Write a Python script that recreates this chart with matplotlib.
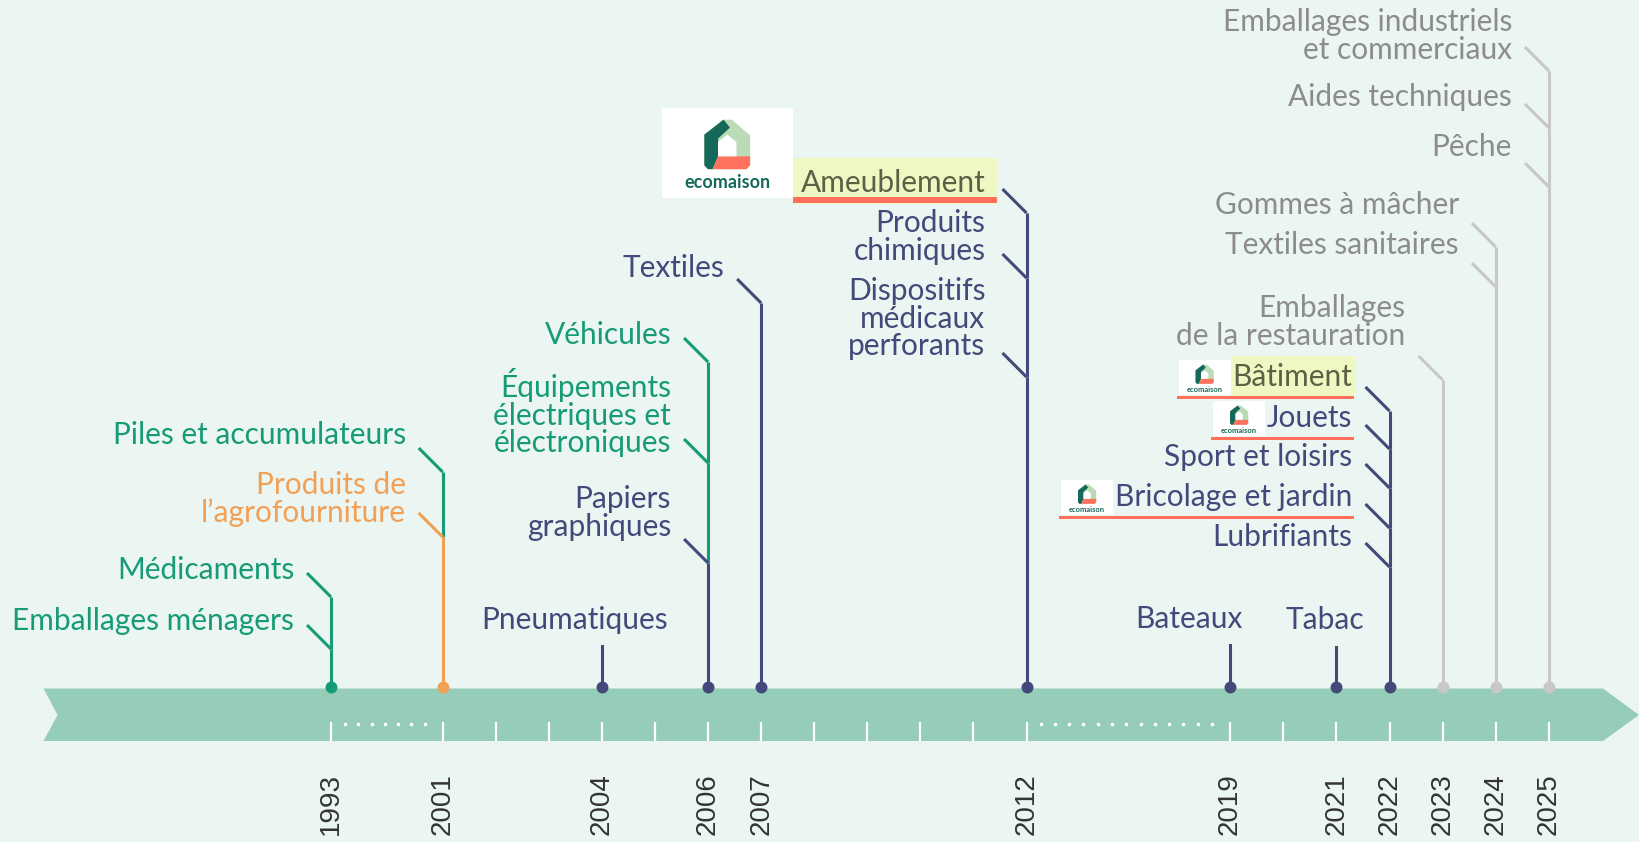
import matplotlib.pyplot as plt
import numpy as np
from matplotlib.font_manager import FontProperties
from matplotlib.patches import Polygon, Rectangle

# ---- données ----
tick_years = [1993] + list(range(2001, 2013)) + list(range(2019, 2026))
year_labels = [1993, 2001, 2004, 2006, 2007, 2012, 2019, 2021, 2022, 2023, 2024, 2025]

filieres = ['Médicaments', 'Emballages ménagers', 'Piles et accumulateurs',
            'Produits de\nl’agrofourniture', 'Pneumatiques', 'Véhicules',
            'Équipements\nélectriques et\nélectroniques', 'Papiers\ngraphiques',
            'Textiles', 'Ameublement', 'Produits\nchimiques',
            'Dispositifs\nmédicaux\nperforants', 'Bateaux', 'Tabac', 'Bâtiment',
            'Jouets', 'Sport et loisirs', 'Bricolage et jardin', 'Lubrifiants',
            'Emballages\nde la restauration', 'Gommes à mâcher',
            'Textiles sanitaires', 'Emballages industriels\net commerciaux',
            'Aides techniques', 'Pêche']
annees = [1993, 1993, 2001, 2001, 2004, 2006, 2006, 2006, 2007, 2012, 2012, 2012,
          2019, 2021, 2022, 2022, 2022, 2022, 2022, 2023, 2024, 2024, 2025, 2025, 2025]
groupes = ['vert', 'vert', 'vert', 'orange', 'bleu', 'vert', 'vert', 'bleu', 'bleu',
           'bleu', 'bleu', 'bleu', 'bleu', 'bleu', 'bleu', 'bleu', 'bleu', 'bleu',
           'bleu', 'gris', 'gris', 'gris', 'gris', 'gris', 'gris']
ecomaison = ['Ameublement', 'Bâtiment', 'Jouets', 'Bricolage et jardin']

# ---- mise en page (pixels, y vers le bas) ----
W, H = 1639, 842
text_y = [570, 621, 435, 513, 620, 335, 440, 527, 268, 183, 251, 346, 619, 620,
          377, 418, 457, 497, 537, 336, 205, 245, 50, 97, 147]
join_y = [597, 649, 472, 537, None, 362, 463, 563, 303, 213, 278, 377, None, None,
          411, 449, 488, 528, 567, 380, 247, 287, 71, 128, 187]
stub_top = {'Pneumatiques': 646, 'Bateaux': 645, 'Tabac': 647}
text_dx = {'Pneumatiques': 66, 'Bateaux': 13, 'Tabac': 28}
gap = {2012: 41}
logo_grand = ['Ameublement']
surligne = ['Ameublement', 'Bâtiment']

# frise compressée : 1993..2001 et 2012..2019 resserrés
brk_years = [1993, 2001, 2012, 2019, 2025]
brk_px = [331, 442.7, 1026.5, 1230, 1549]


def xpos(year):
    return np.interp(year, brk_years, brk_px)


Y_AXE = 687
LS = 27.5
LW = 2.2
FS = 21.5
BG = '#EBF5F1'
line_col = {'vert': '#169B76', 'orange': '#F2A055', 'bleu': '#434A7B', 'gris': '#C8C8C8'}
text_col = {'vert': '#169B76', 'orange': '#F2A055', 'bleu': '#434A7B', 'gris': '#8C8C8C'}
FONT = ['Lato', 'DejaVu Sans']

fig = plt.figure(figsize=(W / 100, H / 100), dpi=100)
fig.patch.set_facecolor(BG)
ax = fig.add_axes([0, 0, 1, 1])
ax.set_xlim(0, W)
ax.set_ylim(H, 0)
ax.axis('off')

renderer = fig.canvas.get_renderer()
inv = ax.transData.inverted()
# interligne : hauteur "lp" de la police ramenée au pas voulu
_, lp_h, _ = renderer.get_text_width_height_descent(
    'lp', FontProperties(family=FONT, size=FS), ismath=False)
spacing = LS / lp_h

# bandeau fléché
ax.add_patch(Polygon([(43.5, 688.5), (1603, 688.5), (1639, 715), (1603, 741),
                      (43.5, 741), (57.5, 715)], closed=True,
                     facecolor='#96CDB8', edgecolor='none', zorder=1))

# graduations
for yr in tick_years:
    x = xpos(yr)
    ax.plot([x, x], [722, 741], color='white', lw=1.6, zorder=2, solid_capstyle='butt')

# pointillés des périodes compressées
for a, b, n in [(1993, 2001, 7), (2012, 2019, 13)]:
    xs = np.linspace(xpos(a) + 14, xpos(b) - 18, n)
    ax.plot(xs, np.full(n, 724), 'o', color='white', ms=2.6, mec='none', zorder=2)

# années
for yr in year_labels:
    ax.text(xpos(yr), 773, str(yr), rotation=90, ha='center', va='top',
            fontsize=20, color='#333333',
            family=['Liberation Sans Narrow', 'Liberation Sans'])

# tiges, diagonales et pastilles
for yr in year_labels:
    x = xpos(yr)
    idx = [i for i in range(len(filieres)) if annees[i] == yr]
    js = sorted([(join_y[i], i) for i in idx if join_y[i] is not None])
    if js:
        ys = [j for j, _ in js] + [Y_AXE]
        for k, (j, i) in enumerate(js):
            c = line_col[groupes[i]]
            ax.plot([x, x], [j, ys[k + 1]], color=c, lw=LW, zorder=2,
                    solid_capstyle='butt')
            ax.plot([x - 24, x], [j - 24, j], color=c, lw=LW, zorder=2,
                    solid_capstyle='butt')
        last = js[-1][1]
    else:
        last = idx[0]
        ax.plot([x, x], [stub_top[filieres[last]], Y_AXE],
                color=line_col[groupes[last]], lw=LW, zorder=2)
    ax.plot(x, Y_AXE, 'o', color=line_col[groupes[last]], ms=8.6, mec='none', zorder=3)


def draw_logo(x0, y0, w, h, fs):
    ax.add_patch(Rectangle((x0, y0), w, h, facecolor='white', edgecolor='none', zorder=4))
    iw, ih = 0.35 * w, 0.55 * h
    ix, iy = x0 + (w - iw) / 2, y0 + 0.13 * h

    def poly(pts, col):
        ax.add_patch(Polygon([(ix + u * iw, iy + v * ih) for u, v in pts], closed=True,
                             facecolor=col, edgecolor='none', zorder=5))
    poly([(0, 0.32), (0.4, 0.0), (0.5, 0), (0.6, 0.0), (1, 0.32), (1, 0.92),
          (0.92, 1), (0.08, 1), (0, 0.92)], '#BADBB5')
    poly([(0, 0.3), (0.42, 0.0), (0.56, 0.16), (0.3, 0.38), (0.3, 0.74),
          (0.18, 1), (0.08, 1), (0, 0.92)], '#15695A')
    poly([(0.3, 0.74), (1, 0.74), (1, 0.92), (0.92, 1), (0.18, 1)], '#FF725E')
    poly([(0.3, 0.45), (0.5, 0.3), (0.7, 0.45), (0.7, 0.74), (0.3, 0.74)], 'white')
    ax.text(x0 + w / 2, y0 + 0.83 * h, 'ecomaison', ha='center', va='center',
            fontsize=fs, color='#15695A', weight='bold', family=FONT, zorder=5)


# libellés
for i, name in enumerate(filieres):
    x = xpos(annees[i])
    right = x + text_dx.get(name, -gap.get(annees[i], 37))
    n = name.count('\n') + 1
    col = text_col[groupes[i]]
    if name in surligne:
        col = '#5C6045'
    t = ax.text(right, text_y[i] - (n - 1) * LS / 2, name, ha='right', va='center',
                ma='right', linespacing=spacing, fontsize=FS, color=col,
                family=FONT, zorder=6)
    if name in ecomaison:
        bb = inv.transform(t.get_window_extent(renderer=renderer))
        tl, tr = bb[:, 0].min(), bb[:, 0].max()
        ty = text_y[i]
        if name in logo_grand:
            hl, hr = tl - 8, tr + 11
            ax.add_patch(Rectangle((hl, ty - 25), hr - hl, 46, facecolor='#EFF7C3',
                                   edgecolor='none', zorder=3))
            ax.add_patch(Rectangle((hl, ty + 14), hr - hl, 6, facecolor='#FF6F5B',
                                   edgecolor='none', zorder=4))
            draw_logo(hl - 131, ty - 75, 131, 90, 13)
        else:
            lx = tl - 2 - 52
            if name in surligne:
                ax.add_patch(Rectangle((tl - 1, ty - 21), tr - tl + 3, 40,
                                       facecolor='#EFF7C3', edgecolor='none', zorder=3))
            draw_logo(lx, ty - 17, 52, 35, 5.4)
            ax.add_patch(Rectangle((lx - 2, ty + 18.5), tr + 1 - (lx - 2), 3,
                                   facecolor='#FF6F5B', edgecolor='none', zorder=4))

fig.savefig('out.png', dpi=100, facecolor=BG)
